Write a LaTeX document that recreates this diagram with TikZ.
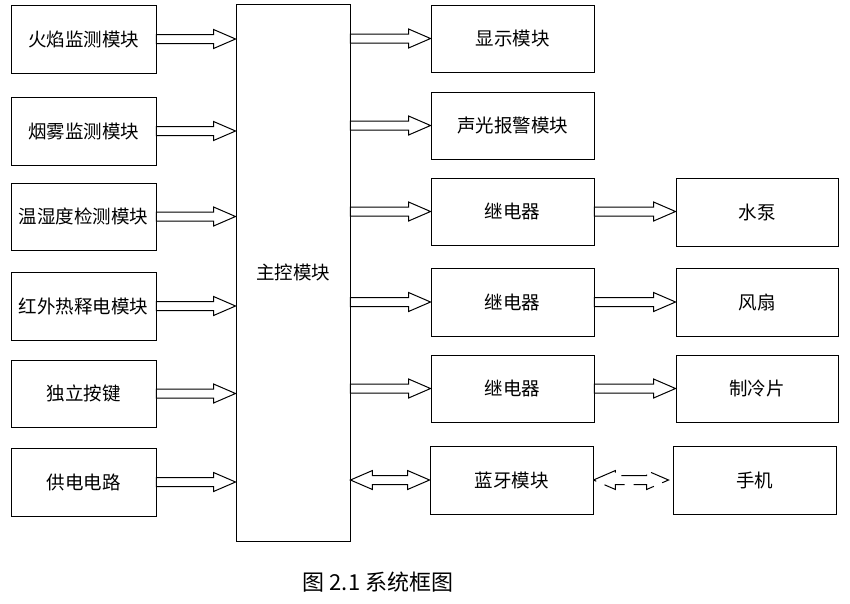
\documentclass[tikz,border=0pt]{standalone}
\usepackage{fontspec}
\newfontfamily\cjk{Noto Sans CJK SC}
\usetikzlibrary{calc}
\tikzset{
  box/.style={draw, line width=0.9pt, font=\cjk\fontsize{18.5}{22}\selectfont, inner sep=0pt},
  conn/.style={draw, line width=1pt, fill=white, line join=miter},
  harrow/.style={to path={let \p1=(\tikztostart), \p2=(\tikztotarget) in
    (\x1,\y1+4.5pt) -- (\x2-22pt,\y1+4.5pt) -- (\x2-22pt,\y1+9.5pt) -- (\x2,\y1)
    -- (\x2-22pt,\y1-9.5pt) -- (\x2-22pt,\y1-4.5pt) -- (\x1,\y1-4.5pt) -- cycle}},
  dharrow/.style={to path={let \p1=(\tikztostart), \p2=(\tikztotarget) in
    (\x1,\y1) -- (\x1+22pt,\y1+9.5pt) -- (\x1+22pt,\y1+4.5pt) -- (\x2-22pt,\y1+4.5pt)
    -- (\x2-22pt,\y1+9.5pt) -- (\x2,\y1) -- (\x2-22pt,\y1-9.5pt) -- (\x2-22pt,\y1-4.5pt)
    -- (\x1+22pt,\y1-4.5pt) -- (\x1+22pt,\y1-9.5pt) -- cycle}},
}
\begin{document}
\begin{tikzpicture}[x=1pt,y=-1pt]
\useasboundingbox (0,0) rectangle (850,603);
% left column
\node[box, minimum width=145pt, minimum height=68pt] (l1) at (83.5,39) {火焰监测模块};
\node[box, minimum width=145pt, minimum height=68pt] (l2) at (83.5,131) {烟雾监测模块};
\node[box, minimum width=145pt, minimum height=67pt] (l3) at (83.5,216.5) {温湿度检测模块};
\node[box, minimum width=145pt, minimum height=68pt] (l4) at (83.5,306) {红外热释电模块};
\node[box, minimum width=145pt, minimum height=67pt] (l5) at (83.5,393.5) {独立按键};
\node[box, minimum width=145pt, minimum height=68pt] (l6) at (83.5,482) {供电电路};
% main
\node[box, minimum width=114pt, minimum height=537pt] (main) at (293,272.5) {主控模块};
% middle column
\node[box, minimum width=163pt, minimum height=67pt] (m1) at (512.5,38.5) {显示模块};
\node[box, minimum width=163pt, minimum height=67pt] (m2) at (512.5,125.5) {声光报警模块};
\node[box, minimum width=163pt, minimum height=67pt] (m3) at (512.5,211.5) {继电器};
\node[box, minimum width=163pt, minimum height=68pt] (m4) at (512.5,302) {继电器};
\node[box, minimum width=163pt, minimum height=67pt] (m5) at (512.5,388.5) {继电器};
\node[box, minimum width=163pt, minimum height=68pt] (m6) at (511.5,480) {蓝牙模块};
% right column
\node[box, minimum width=162pt, minimum height=68pt] (r3) at (757,212) {水泵};
\node[box, minimum width=162pt, minimum height=68pt] (r4) at (757,302) {风扇};
\node[box, minimum width=162pt, minimum height=67pt] (r5) at (757,388.5) {制冷片};
\node[box, minimum width=163pt, minimum height=68pt] (r6) at (754.5,480) {手机};
% left arrows
\foreach \k in {l1,l2,l3,l4,l5,l6}
  \draw[conn] (\k.east) to[harrow] (main.west |- \k.east);
% middle arrows
\foreach \k in {m1,m2,m3,m4,m5}
  \draw[conn] (main.east |- \k.west) to[harrow] (\k.west);
\draw[conn] (main.east |- m6.west) to[dharrow] (m6.west);
% right arrows
\draw[conn] (m3.east) to[harrow] (r3.west);
\draw[conn] (m4.east) to[harrow] (r4.west);
\draw[conn] (m5.east) to[harrow] (r5.west);
\coordinate (pend) at ($(r6.west)+(-4,0)$);
\draw[conn, dash pattern=on 26pt off 9pt] (m6.east) to[dharrow] (pend);
% caption
\node[font=\cjk\fontsize{22}{26}\selectfont, inner sep=0pt] (cap) at (378,582) {图 2.1 系统框图};
\end{tikzpicture}
\end{document}
